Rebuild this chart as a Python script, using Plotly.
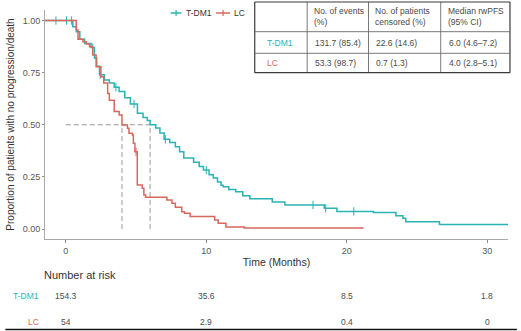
import numpy as np
import plotly.graph_objects as go

# ---------------- data ----------------
groups = ["T-DM1", "LC"]

# Kaplan-Meier step points (time in months, survival after the step)
tdm1_time = [-1.48, 0.5, 0.75, 1.0, 1.34, 1.8, 2.04, 2.2, 2.4, 2.75,
             3.1, 3.45, 3.8, 4.2, 4.6, 5.1, 5.5, 5.8, 6.0, 6.4,
             6.7, 7.0, 7.4, 7.8, 8.1, 8.4, 9.1, 9.5, 9.8, 10.2,
             10.5, 10.8, 11.05, 11.2, 11.6, 12.1, 12.6, 13.1, 14.7, 15.6,
             18.4, 19.3, 21.9, 23.5, 24.0, 24.2, 26.6, 31.48]
tdm1_surv = [1.0, 0.97, 0.946, 0.91, 0.89, 0.87, 0.82, 0.78, 0.74, 0.715,
             0.70, 0.68, 0.66, 0.63, 0.60, 0.555, 0.535, 0.52, 0.50, 0.485,
             0.46, 0.43, 0.415, 0.395, 0.37, 0.34, 0.32, 0.30, 0.283, 0.26,
             0.245, 0.225, 0.21, 0.203, 0.19, 0.179, 0.16, 0.145, 0.13, 0.115,
             0.099, 0.084, 0.079, 0.064, 0.051, 0.035, 0.022, 0.022]
tdm1_censor = [-0.7, 0.05, 0.4, 1.92, 2.45, 3.57, 4.86, 7.09, 10.0, 17.6, 18.5, 20.5]

lc_time = [-1.48, 0.75, 0.87, 1.22, 1.46, 1.69, 1.92, 2.16, 2.5, 2.7,
           2.98, 3.1, 3.45, 3.8, 4.0, 4.39, 4.5, 4.74, 4.81, 4.92,
           5.09, 5.44, 5.56, 5.68, 7.2, 7.56, 7.8, 8.26, 8.45, 8.85,
           10.6, 10.85, 11.4, 12.7, 21.2]
lc_surv = [1.0, 0.955, 0.91, 0.898, 0.887, 0.874, 0.835, 0.778, 0.73, 0.70,
           0.65, 0.618, 0.563, 0.547, 0.499, 0.483, 0.459, 0.451, 0.411, 0.37,
           0.211, 0.195, 0.163, 0.152, 0.139, 0.123, 0.104, 0.083, 0.075, 0.06,
           0.043, 0.027, 0.01, 0.005, 0.005]
lc_censor = [5.0]

median_time = [6.0, 4.0]

# summary table
table_header = ["", "No. of events<br>(%)", "No. of patients<br>censored (%)", "Median rwPFS<br>(95% CI)"]
table_rows = [
    ["T-DM1", "131.7 (85.4)", "22.6 (14.6)", "6.0 (4.6\u20137.2)"],
    ["LC", "53.3 (98.7)", "0.7 (1.3)", "4.0 (2.8\u20135.1)"],
]

# number at risk
risk_times = [0, 10, 20, 30]
risk_tdm1 = ["154.3", "35.6", "8.5", "1.8"]
risk_lc = ["54", "2.9", "0.4", "0"]

x_ticks = [0, 10, 20, 30]
y_ticks = [0.0, 0.25, 0.5, 0.75, 1.0]

# ---------------- style ----------------
C_T = "#2bb2b2"
C_L = "#d8675c"
TXT = "#4a4a4a"
FONT = "Liberation Sans, Arial, sans-serif"

W, H = 521, 331
L_PX, R_PX, T_PX, B_PX = 40, 508, 10, 239  # plot area in pixels


def px(x):
    return (x - L_PX) / (R_PX - L_PX)


def py(y):
    return (B_PX - y) / (B_PX - T_PX)


def step_value(times, survs, t):
    idx = np.searchsorted(np.array(times), t, side="right") - 1
    return survs[max(idx, 0)]


fig = go.Figure()

DASH = dict(color="#9a9a9a", width=1, dash="5px,3px")
# median dashed guides
fig.add_trace(go.Scatter(x=[0, max(median_time)], y=[0.5, 0.5], mode="lines", line=DASH,
                         showlegend=False, hoverinfo="skip"))
for m in median_time:
    fig.add_trace(go.Scatter(x=[m, m], y=[0, 0.5], mode="lines", line=DASH,
                             showlegend=False, hoverinfo="skip"))

for name, tt, ss, cens, col in [("T-DM1", tdm1_time, tdm1_surv, tdm1_censor, C_T),
                                ("LC", lc_time, lc_surv, lc_censor, C_L)]:
    fig.add_trace(go.Scatter(x=tt, y=ss, mode="lines", line=dict(color=col, width=1.5, shape="hv"),
                             showlegend=False, name=name))
    fig.add_trace(go.Scatter(x=cens, y=[step_value(tt, ss, c) for c in cens], mode="markers",
                             marker=dict(symbol="line-ns-open", size=6, color=col, line=dict(color=col, width=1)),
                             showlegend=False, name=name))

shapes = []
annotations = []

# ---- custom legend ----
for (x0, x1, xt), name, col in [((167, 178, 180), "T-DM1", C_T), ((213, 227, 229), "LC", C_L)]:
    shapes.append(dict(type="line", xref="paper", yref="paper", x0=px(x0), x1=px(x1), y0=py(13), y1=py(13),
                       line=dict(color=col, width=1.5)))
    xm = (x0 + x1) / 2
    shapes.append(dict(type="line", xref="paper", yref="paper", x0=px(xm), x1=px(xm), y0=py(10), y1=py(16),
                       line=dict(color=col, width=1.2)))
    annotations.append(dict(x=px(xt), y=py(13), xref="paper", yref="paper", text=name, showarrow=False,
                            xanchor="left", yanchor="middle", font=dict(size=8.5, color="#333333", family=FONT)))

# ---- summary table drawn with shapes/annotations ----
col_x = [252, 305, 367, 440, 510]
row_y = [2, 31.7, 53.3, 72.7]
for i, x in enumerate(col_x):
    outer = i in (0, len(col_x) - 1)
    shapes.append(dict(type="line", xref="paper", yref="paper", x0=px(x), x1=px(x),
                       y0=py(row_y[0]), y1=py(row_y[-1]),
                       line=dict(color="#3a3a3a" if outer else "#6a6a6a", width=1.2 if outer else 0.9)))
for j, y in enumerate(row_y):
    outer = j in (0, len(row_y) - 1)
    shapes.append(dict(type="line", xref="paper", yref="paper", x0=px(col_x[0]), x1=px(col_x[-1]),
                       y0=py(y), y1=py(y),
                       line=dict(color="#3a3a3a" if outer else "#6a6a6a", width=1.2 if outer else 0.9)))

for c, txt in enumerate(table_header):
    if txt:
        annotations.append(dict(x=px(col_x[c] + 5), y=py((row_y[0] + row_y[1]) / 2), xref="paper", yref="paper",
                                text=txt, showarrow=False, xanchor="left", yanchor="middle", align="left",
                                font=dict(size=8.5, color=TXT, family=FONT)))
row_colors = [C_T, C_L]
for r, row in enumerate(table_rows):
    yc = py((row_y[r + 1] + row_y[r + 2]) / 2)
    for c, txt in enumerate(row):
        xpos = px(col_x[c] + (10 if c == 0 else 6))
        annotations.append(dict(x=xpos, y=yc, xref="paper", yref="paper", text=txt, showarrow=False,
                                xanchor="left", yanchor="middle",
                                font=dict(size=8.5, color=row_colors[r] if c == 0 else TXT, family=FONT)))

# ---- number at risk ----
annotations.append(dict(x=px(37), y=py(275), xref="paper", yref="paper", text="Number at risk",
                        showarrow=False, xanchor="left", yanchor="middle",
                        font=dict(size=11, color="#333333", family=FONT)))
for label, vals, ypix, col in [("T-DM1", risk_tdm1, 296, C_T), ("LC", risk_lc, 322, C_L)]:
    annotations.append(dict(x=px(36), y=py(ypix), xref="paper", yref="paper", text=label, showarrow=False,
                            xanchor="right", yanchor="middle", font=dict(size=8.5, color=col, family=FONT)))
    for t, v in zip(risk_times, vals):
        annotations.append(dict(x=t, y=py(ypix), xref="x", yref="paper", text=v, showarrow=False,
                                xanchor="center", yanchor="middle", font=dict(size=8.5, color=TXT, family=FONT)))

# bottom border line
shapes.append(dict(type="line", xref="paper", yref="paper", x0=px(0), x1=px(517), y0=py(329.5), y1=py(329.5),
                   line=dict(color="#111111", width=1.5)))

x_min = (L_PX - 61) / 14.2
x_max = (R_PX - 61) / 14.2
y_min = -(B_PX - 229) / 208.5
y_max = (229 - T_PX) / 208.5

fig.update_layout(
    width=W, height=H,
    margin=dict(l=L_PX, r=W - R_PX, t=T_PX, b=H - B_PX, pad=0),
    paper_bgcolor="white", plot_bgcolor="white",
    font=dict(family=FONT, color=TXT),
    shapes=shapes, annotations=annotations,
    showlegend=False,
    xaxis=dict(range=[x_min, x_max], tickvals=x_ticks, showgrid=False, zeroline=False,
               showline=True, linecolor="#aaaaaa", linewidth=1, ticks="outside", ticklen=3,
               tickcolor="#888888", tickfont=dict(size=9, color="#555555", family=FONT),
               title=dict(text="Time (Months)", font=dict(size=10.5, color="#333333", family=FONT), standoff=3)),
    yaxis=dict(range=[y_min, y_max], tickvals=y_ticks, ticktext=["0.00", "0.25", "0.50", "0.75", "1.00"],
               showgrid=False, zeroline=False, showline=True, linecolor="#aaaaaa", linewidth=1,
               ticks="outside", ticklen=2, tickcolor="#888888",
               tickfont=dict(size=9, color="#555555", family=FONT),
               title=dict(text="Proportion of patients with no progression/death",
                          font=dict(size=10, color="#333333", family=FONT), standoff=6)),
)

fig.write_html("out.html")
